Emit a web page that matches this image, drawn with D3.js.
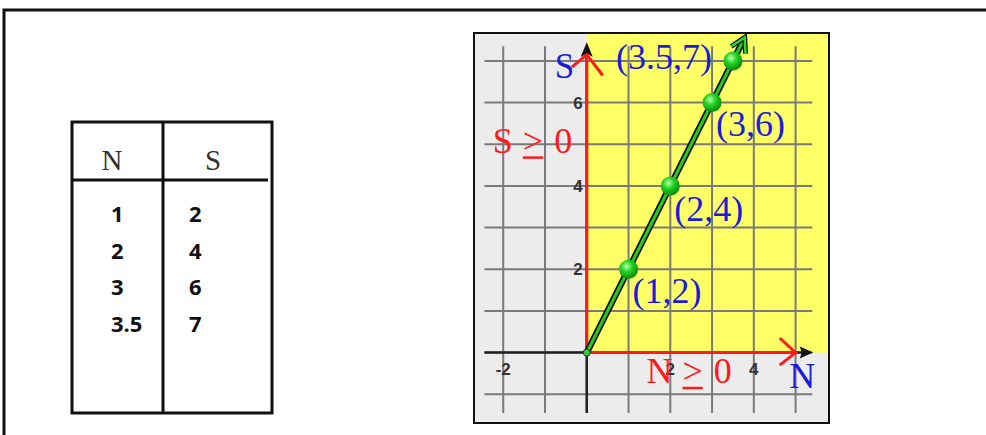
<!DOCTYPE html>
<html>
<head>
<meta charset="utf-8">
<script src="https://cdn.jsdelivr.net/npm/d3@7"></script>
<style>
  body { margin: 0; background: #fff; }
  svg { display: block; }
</style>
</head>
<body>
<svg id="chart"></svg>
<script>
// Data
const nValues = [1, 2, 3, 3.5];
const sValues = [2, 4, 6, 7];
const xTicks = [-2, 2, 4];
const yTicks = [2, 4, 6];
const headers = ['N', 'S'];

const width = 986;
const height = 435;

const svg = d3.select('#chart')
  .attr('width', width)
  .attr('height', height);

// Outer frame
svg.append('rect')
  .attr('x', 4).attr('y', 10)
  .attr('width', 1000).attr('height', 440)
  .attr('fill', 'none')
  .attr('stroke', '#111')
  .attr('stroke-width', 3);

// ---- Table ----
const table = svg.append('g');
table.append('rect')
  .attr('x', 72).attr('y', 122)
  .attr('width', 200).attr('height', 291)
  .attr('fill', 'none').attr('stroke', '#111').attr('stroke-width', 3);
table.append('line')
  .attr('x1', 163).attr('x2', 163).attr('y1', 122).attr('y2', 413)
  .attr('stroke', '#111').attr('stroke-width', 3);
table.append('line')
  .attr('x1', 72).attr('x2', 268).attr('y1', 180).attr('y2', 180)
  .attr('stroke', '#111').attr('stroke-width', 3);

table.selectAll('.hdr')
  .data(headers)
  .enter().append('text')
    .attr('class', 'hdr')
    .attr('x', (d, i) => i === 0 ? 112 : 213)
    .attr('y', 170)
    .attr('text-anchor', 'middle')
    .attr('font-family', 'Liberation Serif, serif')
    .attr('font-size', 29)
    .attr('fill', '#333')
    .text(d => d);

const rowY = d3.scaleLinear().domain([0, 1]).range([222, 258.7]);
const cellStyle = sel => sel
  .attr('font-family', 'Open Sans, sans-serif')
  .attr('font-weight', 'bold')
  .attr('font-size', 22)
  .attr('fill', '#111');
table.selectAll('.ncell')
  .data(nValues)
  .enter().append('text')
    .attr('x', 111)
    .attr('y', (d, i) => rowY(i))
    .call(cellStyle)
    .text(d => d);
table.selectAll('.scell')
  .data(sValues)
  .enter().append('text')
    .attr('x', 189)
    .attr('y', (d, i) => rowY(i))
    .call(cellStyle)
    .text(d => d);

// ---- Graph ----
const x = d3.scaleLinear().domain([-2.7, 5.8]).range([474, 829]);
const y = d3.scaleLinear().domain([-1.69, 7.67]).range([423, 33]);

const g = svg.append('g');

// backgrounds
g.append('rect')
  .attr('x', x(-2.7)).attr('y', y(7.67))
  .attr('width', x(5.8) - x(-2.7)).attr('height', y(-1.69) - y(7.67))
  .attr('fill', '#ececec');
g.append('rect')
  .attr('x', x(0)).attr('y', y(7.67))
  .attr('width', x(5.8) - x(0)).attr('height', y(0) - y(7.67))
  .attr('fill', '#ffff66');

// grid
g.selectAll('.vgrid')
  .data(d3.range(-2, 6))
  .enter().append('line')
    .attr('x1', d => x(d)).attr('x2', d => x(d))
    .attr('y1', y(7.35)).attr('y2', y(-1.45))
    .attr('stroke', '#7a7a7a').attr('stroke-width', 2);
g.selectAll('.hgrid')
  .data(d3.range(-1, 8))
  .enter().append('line')
    .attr('x1', x(-2.45)).attr('x2', x(5.4))
    .attr('y1', d => y(d)).attr('y2', d => y(d))
    .attr('stroke', '#7a7a7a').attr('stroke-width', 2);

// black axes
g.append('line')
  .attr('x1', x(-2.45)).attr('x2', x(5.3))
  .attr('y1', y(0)).attr('y2', y(0))
  .attr('stroke', '#222').attr('stroke-width', 2.5);
g.append('line')
  .attr('x1', x(0)).attr('x2', x(0))
  .attr('y1', y(-1.45)).attr('y2', y(7.2))
  .attr('stroke', '#222').attr('stroke-width', 2.5);
// black arrowheads
g.append('path')
  .attr('d', `M${x(5.42)},${y(0)} L${x(5.1)},${y(0) - 6} L${x(5.15)},${y(0)} L${x(5.1)},${y(0) + 6} Z`)
  .attr('fill', '#111');
g.append('path')
  .attr('d', `M${x(0)},${y(7.45)} L${x(0) - 6},${y(7.1)} L${x(0)},${y(7.17)} L${x(0) + 6},${y(7.1)} Z`)
  .attr('fill', '#111');

// tick labels
const tickStyle = sel => sel
  .attr('font-family', 'Liberation Sans, sans-serif')
  .attr('font-weight', 'bold')
  .attr('font-size', 17)
  .attr('fill', '#333');
g.selectAll('.xt')
  .data(xTicks)
  .enter().append('text')
    .attr('x', d => x(d))
    .attr('y', y(0) + 22)
    .attr('text-anchor', 'middle')
    .call(tickStyle)
    .text(d => d);
g.selectAll('.yt')
  .data(yTicks)
  .enter().append('text')
    .attr('x', x(0) - 4)
    .attr('y', d => y(d) + 6)
    .attr('text-anchor', 'end')
    .call(tickStyle)
    .text(d => d);

// red constraint arrows
const red = '#ff1a1a';
g.append('line')
  .attr('x1', x(0)).attr('x2', x(0))
  .attr('y1', y(0)).attr('y2', y(7.15))
  .attr('stroke', red).attr('stroke-width', 3);
g.append('path')
  .attr('d', `M${x(0) - 15},${y(6.85)} L${x(0)},${y(7.15)} L${x(0) + 16},${y(6.65)}`)
  .attr('fill', 'none').attr('stroke', red).attr('stroke-width', 3);
g.append('line')
  .attr('x1', x(0)).attr('x2', x(5.0))
  .attr('y1', y(0)).attr('y2', y(0))
  .attr('stroke', red).attr('stroke-width', 3);
g.append('path')
  .attr('d', `M${x(4.62)},${y(0.35)} L${x(5.0)},${y(0)} L${x(4.62)},${y(-0.3)}`)
  .attr('fill', 'none').attr('stroke', red).attr('stroke-width', 3);

// green line S = 2N
const pts = nValues.map((n, i) => [n, sValues[i]]);
const lineEnd = [3.78, 7.56];
g.append('line')
  .attr('x1', x(0)).attr('y1', y(0))
  .attr('x2', x(lineEnd[0])).attr('y2', y(lineEnd[1]))
  .attr('stroke', '#111').attr('stroke-width', 6.5);
g.append('line')
  .attr('x1', x(0)).attr('y1', y(0))
  .attr('x2', x(lineEnd[0])).attr('y2', y(lineEnd[1]))
  .attr('stroke', '#22cc22').attr('stroke-width', 3);
// arrowhead on green line
const ang = Math.atan2(y(lineEnd[1]) - y(0), x(lineEnd[0]) - x(0));
const tipX = x(lineEnd[0]), tipY = y(lineEnd[1]);
const ah = [[0, 0], [-14, -8], [-14, 8]].map(([a, b]) => [
  tipX + a * Math.cos(ang) - b * Math.sin(ang),
  tipY + a * Math.sin(ang) + b * Math.cos(ang)
]);
const ahPath = `M${ah[1][0]},${ah[1][1]} L${ah[0][0]},${ah[0][1]} L${ah[2][0]},${ah[2][1]}`;
g.append('path').attr('d', ahPath)
  .attr('fill', 'none').attr('stroke', '#111').attr('stroke-width', 5);
g.append('path').attr('d', ahPath)
  .attr('fill', 'none').attr('stroke', '#22dd22').attr('stroke-width', 2.5);

// origin dot
g.append('circle')
  .attr('cx', x(0)).attr('cy', y(0)).attr('r', 3.5)
  .attr('fill', '#33cc33').attr('stroke', '#333').attr('stroke-width', 1);

// point gradient
const defs = svg.append('defs');
const grad = defs.append('radialGradient')
  .attr('id', 'ballGrad')
  .attr('cx', '40%').attr('cy', '35%').attr('r', '65%');
grad.append('stop').attr('offset', '0%').attr('stop-color', '#b8ffb0');
grad.append('stop').attr('offset', '45%').attr('stop-color', '#22d422');
grad.append('stop').attr('offset', '100%').attr('stop-color', '#0a8a0a');

g.selectAll('.pt')
  .data(pts)
  .enter().append('circle')
    .attr('cx', d => x(d[0]))
    .attr('cy', d => y(d[1]))
    .attr('r', 9.5)
    .attr('fill', 'url(#ballGrad)');

// point labels
const blue = '#1c1cd8';
const serif = 'Liberation Serif, serif';
const labelOffsets = [[4, 34], [4, 35], [4, 33], [-117, 8]];
g.selectAll('.pl')
  .data(pts)
  .enter().append('text')
    .attr('x', (d, i) => x(d[0]) + labelOffsets[i][0])
    .attr('y', (d, i) => y(d[1]) + labelOffsets[i][1])
    .attr('font-family', serif)
    .attr('font-size', 36)
    .attr('fill', blue)
    .text(d => `(${d[0]},${d[1]})`);

// axis names
g.append('text')
  .attr('x', x(0) - 32).attr('y', y(6.6))
  .attr('font-family', serif)
  .attr('font-size', 35)
  .attr('fill', blue)
  .text('S');
g.append('text')
  .attr('x', x(4.85)).attr('y', y(-0.85))
  .attr('font-family', serif)
  .attr('font-size', 36)
  .attr('fill', blue)
  .text('N');

// constraint labels: letter, ">" underlined, "0"
function constraintLabel(letter, x0, base) {
  const lab = g.append('g');
  const t1 = lab.append('text')
    .attr('x', x0).attr('y', base)
    .attr('font-family', serif).attr('font-size', 36).attr('fill', red)
    .text(letter);
  const x1 = x0 + t1.node().getComputedTextLength() + 10;
  const t2 = lab.append('text')
    .attr('x', x1).attr('y', base)
    .attr('font-family', serif).attr('font-size', 36).attr('fill', red)
    .text('>');
  const w2 = t2.node().getComputedTextLength();
  lab.append('line')
    .attr('x1', x1).attr('x2', x1 + w2)
    .attr('y1', base + 5).attr('y2', base + 5)
    .attr('stroke', red).attr('stroke-width', 2.5);
  lab.append('text')
    .attr('x', x1 + w2 + 11).attr('y', base)
    .attr('font-family', serif).attr('font-size', 36).attr('fill', red)
    .text('0');
}
constraintLabel('S', x(-2.25), y(4.8));
constraintLabel('N', x(1.43), y(-0.73));

// panel border
svg.append('rect')
  .attr('x', 474).attr('y', 33)
  .attr('width', 355).attr('height', 390)
  .attr('fill', 'none').attr('stroke', '#111').attr('stroke-width', 2);
</script>
</body>
</html>
